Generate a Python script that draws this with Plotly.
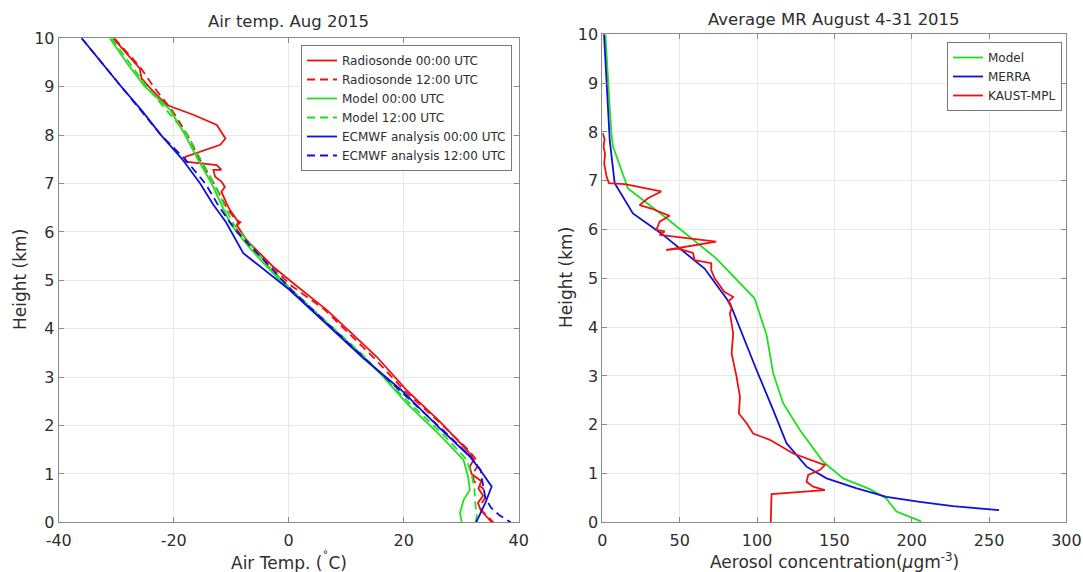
import plotly.graph_objects as go

# ---------------- Left panel: Air temperature (°C) vs height (km) ----------------
rs00_h = [10, 9.38, 9.17, 8.97, 8.62, 8.42, 8.21, 7.93, 7.8, 7.66, 7.55, 7.45, 7.42, 7.38, 7.28, 7.28,
          7.14, 7.04, 6.93, 6.83, 6.59, 6.45, 6.21, 6.14, 5.83, 5.28, 4.94, 4.39, 3.42, 2.73, 2.08,
          1.49, 1.3, 1.15, 1.0, 0.85, 0.7, 0.55, 0.4, 0.25, 0.12, 0.0]
rs00_t = [-30.5, -25.9, -25.6, -24.1, -21.2, -16.6, -12.5, -11.0, -11.9, -15.4, -18.0, -18.0, -15.4, -12.5, -11.7, -13.1,
          -12.8, -11.7, -11.1, -11.7, -10.8, -10.2, -8.8, -9.0, -7.3, -2.7, 0.8, 6.6, 15.3, 20.5, 26.3,
          31.0, 32.2, 31.5, 31.8, 33.5, 33.0, 33.8, 32.9, 33.4, 34.4, 35.3]

rs12_h = [10, 9.4, 9.0, 8.5, 8.0, 7.5, 7.0, 6.5, 6.25, 6.2, 6.1, 5.8, 5.3, 4.9, 4.4, 3.9, 3.4, 2.7, 2.1,
          1.49, 1.3, 1.15, 1.0, 0.85, 0.7, 0.55, 0.4, 0.25, 0.12, 0.0]
rs12_t = [-30.3, -25.8, -23.5, -20.2, -17.6, -15.5, -13.0, -10.8, -9.2, -8.4, -9.3, -7.5, -3.0, 0.3, 6.2, 10.5, 14.8, 20.3, 25.9,
          31.3, 32.6, 32.8, 32.0, 32.2, 33.8, 34.4, 33.6, 33.5, 34.5, 35.6]

mod00_h = [10, 9.5, 9.0, 8.52, 8.0, 7.5, 7.0, 6.56, 6.18, 5.7, 5.28, 4.8, 4.2, 3.49, 3.0, 2.46, 1.8, 1.29,
           0.94, 0.67, 0.46, 0.19, 0.0]
mod00_t = [-31.1, -28.2, -25.0, -20.6, -18.0, -15.8, -13.4, -11.7, -10.2, -7.0, -3.8, 0.2, 5.8, 12.4, 16.5, 20.5, 26.3, 30.4,
           31.2, 31.5, 30.4, 29.8, 30.1]

mod12_h = [10, 9.0, 8.0, 7.0, 6.18, 5.28, 4.8, 3.49, 2.46, 1.8, 1.29, 0.94, 0.7, 0.46, 0.12, 0.0]
mod12_t = [-30.8, -24.7, -17.6, -13.0, -9.7, -3.4, 0.5, 12.6, 21.0, 27.0, 31.0, 31.9, 32.3, 32.4, 32.7, 32.5]

ec00_h = [10, 9.5, 9.0, 8.5, 8.0, 7.5, 7.0, 6.56, 6.2, 5.56, 4.8, 3.39, 2.73, 1.94, 1.36, 1.08, 0.74, 0.4, 0.09, 0.0]
ec00_t = [-36.0, -32.6, -29.1, -25.5, -22.2, -18.5, -15.4, -13.1, -10.9, -7.9, 0.2, 13.0, 19.6, 26.3, 31.5, 33.3, 35.3, 34.2, 33.0, 32.6]

ec12_h = [10, 9.0, 8.0, 7.5, 7.0, 6.5, 6.0, 5.5, 4.8, 3.39, 1.94, 1.36, 1.08, 0.9, 0.5, 0.3, 0.15, 0.0]
ec12_t = [-36.0, -29.1, -22.2, -18.0, -14.5, -12.0, -9.0, -5.0, 0.5, 13.2, 26.5, 31.6, 33.4, 33.6, 34.2, 35.2, 36.6, 38.6]

temp_ticks = [-40, -20, 0, 20, 40]
temp_ticktext = ["-40", "-20", "0", "20", "40"]

# ---------------- Right panel: aerosol concentration vs height ----------------
model_h = [10, 9.5, 9.0, 8.5, 8.0, 7.7, 6.84, 6.26, 5.41, 4.59, 3.84, 3.05, 2.44, 1.89, 1.24, 0.9, 0.68,
           0.49, 0.39, 0.22, 0.03, 0.0]
model_c = [2.0, 2.8, 3.7, 4.8, 5.8, 6.9, 16.6, 40.3, 73.6, 98.4, 106.2, 110.5, 116.9, 127.7, 142.8, 155.7, 172.9,
           183.7, 185.9, 190.2, 205.2, 206.0]

merra_h = [10, 9.0, 7.83, 6.95, 6.33, 5.92, 5.2, 4.49, 3.8, 3.12, 2.3, 1.62, 1.14, 0.9, 0.7, 0.52, 0.42, 0.33, 0.25]
merra_c = [1.1, 2.6, 4.8, 8.0, 19.8, 38.1, 66.1, 82.5, 91.1, 99.7, 110.5, 119.1, 132.0, 145.0, 164.0, 183.7, 205.2, 226.7, 256.5]

mpl_h = [7.97, 7.85, 7.7, 7.55, 7.35, 7.2, 7.08, 6.95, 6.93, 6.78, 6.64, 6.5, 6.43, 6.28, 6.16, 5.99, 5.96, 5.89,
         5.75, 5.58, 5.61, 5.52, 5.37, 5.31, 5.17, 5.0, 4.86, 4.72, 4.62, 4.52, 4.39, 4.28, 3.87, 3.46, 2.98,
         2.57, 2.23, 2.03, 1.82, 1.69, 1.41, 1.17, 1.07, 0.97, 0.83, 0.73, 0.66, 0.58, 0.0]
mpl_c = [0.3, 1.5, 0.8, 1.8, 1.2, 2.0, 2.8, 4.3, 14.5, 38.1, 29.5, 24.1, 31.7, 43.5, 37.1, 34.9, 40.3, 37.1,
         73.6, 41.3, 48.9, 58.6, 59.7, 70.4, 70.4, 72.6, 76.0, 79.0, 84.6, 81.4, 83.6, 82.5, 84.6, 83.6, 86.8,
         89.0, 88.3, 93.3, 97.5, 108.3, 123.4, 143.9, 140.6, 133.1, 132.0, 136.3, 143.9, 109.4, 108.9]

RED = "#ee1111"
GREEN = "#1ee01e"
BLUE = "#1010d8"
DASH = "8px,5px"
LW = 1.8
FONT = "DejaVu Sans"
TXT = "#2e2e2e"
AX = "#8a8a8a"
GRID = "#e8e8e8"

fig = go.Figure()

left = [
    ("Radiosonde 00:00 UTC", rs00_t, rs00_h, RED, "solid"),
    ("Radiosonde 12:00 UTC", rs12_t, rs12_h, RED, DASH),
    ("Model 00:00 UTC", mod00_t, mod00_h, GREEN, "solid"),
    ("Model 12:00 UTC", mod12_t, mod12_h, GREEN, DASH),
    ("ECMWF analysis 00:00 UTC", ec00_t, ec00_h, BLUE, "solid"),
    ("ECMWF analysis 12:00 UTC", ec12_t, ec12_h, BLUE, DASH),
]
for name, xs, ys, col, dash in left:
    fig.add_trace(go.Scatter(x=xs, y=ys, mode="lines", name=name,
                             line=dict(color=col, width=LW, dash=dash),
                             xaxis="x", yaxis="y", legend="legend"))

right = [
    ("Model", model_c, model_h, GREEN),
    ("MERRA", merra_c, merra_h, BLUE),
    ("KAUST-MPL", mpl_c, mpl_h, RED),
]
for name, xs, ys, col in right:
    fig.add_trace(go.Scatter(x=xs, y=ys, mode="lines", name=name,
                             line=dict(color=col, width=LW),
                             xaxis="x2", yaxis="y2", legend="legend2"))

W, H = 1083, 572


def px(x):
    return x / W


def py(y):
    return 1 - y / H


axis_common = dict(showgrid=True, gridcolor=GRID, gridwidth=1, zeroline=False,
                   showline=True, linecolor=AX, linewidth=1, mirror="ticks",
                   ticks="inside", ticklen=5, tickcolor=AX,
                   tickfont=dict(family=FONT, size=16, color=TXT), automargin=False)

fig.update_layout(
    width=W, height=H,
    paper_bgcolor="white", plot_bgcolor="white",
    margin=dict(l=0, r=0, t=0, b=0),
    font=dict(family=FONT, color=TXT),
    xaxis=dict(domain=[px(58.7), px(518.7)], range=[-40, 40], tickvals=temp_ticks, ticktext=temp_ticktext,
               anchor="y", ticklabelstandoff=3, **axis_common),
    yaxis=dict(domain=[py(522.3), py(38.3)], range=[0, 10], dtick=1, anchor="x", **axis_common),
    xaxis2=dict(domain=[px(602.3), px(1066.4)], range=[0, 300], dtick=50, anchor="y2",
                ticklabelstandoff=3, **axis_common),
    yaxis2=dict(domain=[py(522.3), py(34.3)], range=[0, 10], dtick=1, anchor="x2", **axis_common),
    legend=dict(x=px(512), y=py(45), xanchor="right", yanchor="top",
                bgcolor="white", bordercolor="#7a7a7a", borderwidth=1,
                font=dict(family=FONT, size=12, color=TXT), itemwidth=30,
                tracegroupgap=0),
    legend2=dict(x=px(1062), y=py(42), xanchor="right", yanchor="top",
                 bgcolor="white", bordercolor="#7a7a7a", borderwidth=1,
                 font=dict(family=FONT, size=12, color=TXT), itemwidth=30,
                 tracegroupgap=0),
    showlegend=True,
)

annots = [
    dict(text="Air temp. Aug 2015", x=px(288.7), y=py(22), size=16.5, angle=0),
    dict(text="Average MR August 4-31 2015", x=px(834.3), y=py(19), size=16.5, angle=0),
    dict(text="Height (km)", x=px(20), y=py(280), size=17, angle=-90),
    dict(text="Height (km)", x=px(566), y=py(278), size=17, angle=-90),
    dict(text="Air Temp. (<sup>˚</sup>C)", x=px(288.7), y=py(561), size=17, angle=0),
    dict(text="Aerosol concentration(<i>μ</i>gm<sup>-3</sup>)", x=px(834.3), y=py(561), size=17, angle=0),
]
for a in annots:
    fig.add_annotation(text=a["text"], x=a["x"], y=a["y"], xref="paper", yref="paper",
                       xanchor="center", yanchor="middle", showarrow=False, textangle=a["angle"],
                       font=dict(family=FONT, size=a["size"], color=TXT))

fig.write_html("out.html",
               config={"displayModeBar": False},
               post_script="document.body.style.margin='0';document.body.style.padding='0';"
                           "document.body.style.overflow='hidden';")
